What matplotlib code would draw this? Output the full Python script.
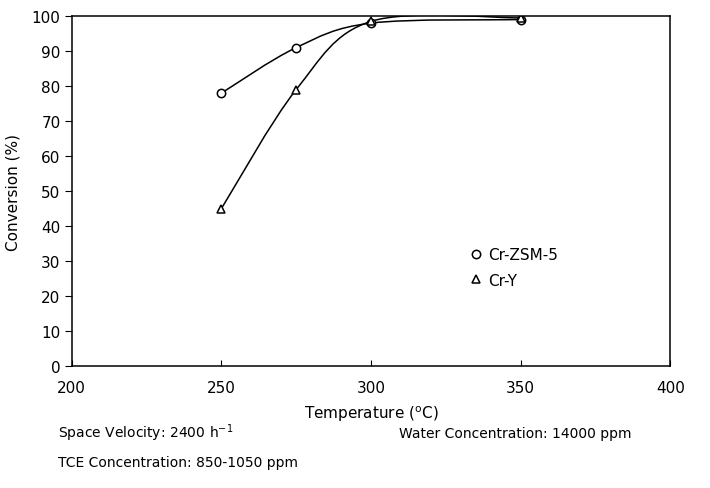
import numpy as np
import matplotlib
matplotlib.use('Agg')
import matplotlib.pyplot as plt
from matplotlib.path import Path
from matplotlib.patches import PathPatch

plt.rcParams['font.family'] = 'DejaVu Sans'

temps = [250, 275, 300, 350]
zsm5 = [78, 91, 98, 99]
cry = [45, 79, 98.5, 99.5]
xticks = [200, 250, 300, 350, 400]
yticks = list(range(0, 101, 10))


def smooth_path(xs, ys):
    # Catmull-Rom through the points, written as cubic Bezier segments
    pts = np.column_stack([xs, ys]).astype(float)
    ext = np.vstack([pts[0], pts, pts[-1]])
    verts = [pts[0]]
    codes = [Path.MOVETO]
    for i in range(1, len(ext) - 2):
        p0, p1, p2, p3 = ext[i - 1], ext[i], ext[i + 1], ext[i + 2]
        verts += [p1 + (p2 - p0) / 6, p2 - (p3 - p1) / 6, p2]
        codes += [Path.CURVE4] * 3
    return Path(verts, codes)


fig = plt.figure(figsize=(7.1, 4.89), dpi=100)
ax = fig.add_axes([0.101, 0.249, 0.843, 0.716])

for ys in (zsm5, cry):
    ax.add_patch(PathPatch(smooth_path(temps, ys), facecolor='none',
                           edgecolor='black', lw=1.1))

ax.plot(temps, zsm5, 'o', mfc='white', mec='black', ms=6, mew=1.1, label='Cr-ZSM-5')
ax.plot(temps, cry, '^', mfc='white', mec='black', ms=6, mew=1.1, label='Cr-Y')

ax.set_xlim(200, 400)
ax.set_ylim(0, 100)
ax.set_xticks(xticks)
ax.set_yticks(yticks)
ax.tick_params(axis='x', direction='in', length=4, pad=10, labelsize=11)
ax.tick_params(axis='y', direction='out', length=5, pad=3, labelsize=11)
for s in ax.spines.values():
    s.set_linewidth(1.1)

ax.set_xlabel('Temperature ($^{\\mathrm{o}}$C)', fontsize=11, labelpad=6)
ax.set_ylabel('Conversion (%)', fontsize=11, labelpad=8)

ax.legend(loc='upper left', bbox_to_anchor=(0.64, 0.38), frameon=False,
          fontsize=11, handletextpad=0.3, labelspacing=0.7, handlelength=1)

fig.text(0.082, 0.105, 'Space Velocity: 2400 h$^{-1}$', fontsize=10)
fig.text(0.562, 0.105, 'Water Concentration: 14000 ppm', fontsize=10)
fig.text(0.082, 0.045, 'TCE Concentration: 850-1050 ppm', fontsize=10)

fig.savefig('out.png', dpi=100)
